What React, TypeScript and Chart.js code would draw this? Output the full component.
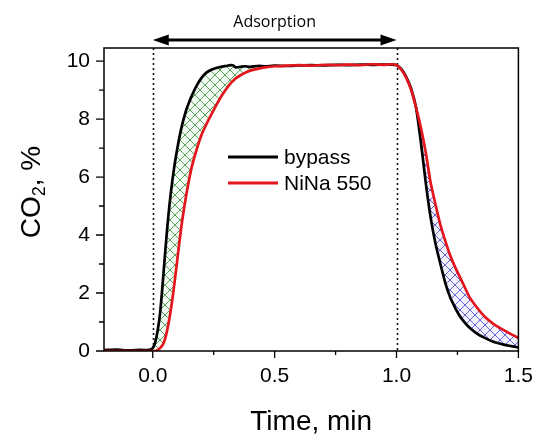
import React, { useEffect, useRef } from 'react';
import { Chart, registerables } from 'chart.js';

Chart.register(...registerables);

// ---- Data ----
const time = [
  -0.2, -0.15, -0.1, -0.05, -0.02, 0, 0.01, 0.02, 0.03, 0.04, 0.05, 0.06, 0.07, 0.08, 0.09,
  0.1, 0.11, 0.12, 0.13, 0.14, 0.15, 0.16, 0.18, 0.2, 0.22, 0.24, 0.26, 0.28, 0.3, 0.32, 0.33,
  0.34, 0.36, 0.38, 0.4, 0.43, 0.46, 0.5, 0.55, 0.6, 0.65, 0.7, 0.75, 0.8, 0.85, 0.9,
  0.95, 0.98, 1.0, 1.02, 1.04, 1.06, 1.08, 1.1, 1.12, 1.14, 1.16, 1.18, 1.2, 1.22, 1.24,
  1.26, 1.28, 1.3, 1.33, 1.36, 1.4, 1.44, 1.47, 1.5,
];
const bypass = [
  0.03, 0.05, 0.02, 0.04, 0.03, 0.1, 0.3, 0.7, 1.3, 2.25, 3.3, 4.3, 5.15, 5.85, 6.45,
  6.95, 7.4, 7.78, 8.1, 8.38, 8.6, 8.8, 9.15, 9.42, 9.6, 9.7, 9.76, 9.8, 9.83, 9.86, 9.85,
  9.78, 9.8, 9.82, 9.8, 9.83, 9.82, 9.84, 9.83, 9.85, 9.86, 9.85, 9.87, 9.86, 9.88, 9.87,
  9.88, 9.88, 9.86, 9.72, 9.45, 9.05, 8.4, 7.2, 5.8, 4.6, 3.7, 3.0, 2.35, 1.85, 1.5,
  1.2, 0.98, 0.8, 0.6, 0.46, 0.31, 0.22, 0.17, 0.12,
];
const nina550 = [
  0.0, 0.0, 0.0, 0.0, 0.0, 0.0, 0.0, 0.03, 0.1, 0.2, 0.4, 0.75, 1.2, 1.75, 2.4,
  3.1, 3.8, 4.45, 5.0, 5.5, 5.95, 6.35, 6.95, 7.45, 7.82, 8.15, 8.47, 8.77, 9.02, 9.24, 9.32,
  9.4, 9.51, 9.6, 9.67, 9.73, 9.78, 9.82, 9.84, 9.86, 9.84, 9.87, 9.86, 9.88, 9.86, 9.89,
  9.87, 9.89, 9.86, 9.7, 9.42, 9.0, 8.4, 7.7, 6.85, 5.8, 5.05, 4.35, 3.8, 3.3, 2.9,
  2.55, 2.2, 1.85, 1.5, 1.2, 0.92, 0.72, 0.58, 0.45,
];
const xMajorTicks = [0, 0.5, 1.0, 1.5];
const xMinorTicks = [0.25, 0.75, 1.25];
const yMajorTicks = [0, 2, 4, 6, 8, 10];
const yMinorTicks = [1, 3, 5, 7, 9];
const markerTimes = [0, 1.0];
const seriesLabels = ['bypass', 'NiNa 550'];
const annotationText = 'Adsorption';
const xTitle = 'Time, min';

const FONT = '"Liberation Sans", Arial, sans-serif';
const BLACK = '#000000';
const RED = '#e3161d';

function makeHatch(color: string, bg: string): CanvasPattern | string {
  const s = 10;
  const c = document.createElement('canvas');
  c.width = s;
  c.height = s;
  const g = c.getContext('2d');
  if (!g) return color;
  g.fillStyle = bg;
  g.fillRect(0, 0, s, s);
  g.strokeStyle = color;
  g.lineWidth = 1;
  g.beginPath();
  g.moveTo(-1, -1);
  g.lineTo(s + 1, s + 1);
  g.moveTo(s + 1, -1);
  g.lineTo(-1, s + 1);
  g.stroke();
  const p = g.createPattern(c, 'repeat');
  return p || color;
}

const decorPlugin = {
  id: 'decor',
  beforeDatasetsDraw(chart: any) {
    const { ctx, chartArea } = chart;
    const xs = chart.scales.x;
    ctx.save();
    ctx.strokeStyle = '#111';
    ctx.lineWidth = 1.6;
    ctx.setLineDash([2, 3]);
    markerTimes.forEach((t) => {
      const px = Math.round(xs.getPixelForValue(t)) + 0.5;
      ctx.beginPath();
      ctx.moveTo(px, chartArea.top);
      ctx.lineTo(px, chartArea.bottom);
      ctx.stroke();
    });
    ctx.restore();
  },
  afterDraw(chart: any) {
    const { ctx, chartArea } = chart;
    const xs = chart.scales.x;
    const ys = chart.scales.y;
    const { left, right, top, bottom } = chartArea;
    ctx.save();
    // frame
    ctx.strokeStyle = '#000';
    ctx.lineWidth = 1.5;
    ctx.setLineDash([]);
    ctx.strokeRect(left, top, right - left, bottom - top);
    // ticks
    ctx.lineWidth = 1.3;
    ctx.beginPath();
    xMajorTicks.forEach((v) => {
      const px = xs.getPixelForValue(v);
      ctx.moveTo(px, bottom);
      ctx.lineTo(px, bottom + 7);
    });
    xMinorTicks.forEach((v) => {
      const px = xs.getPixelForValue(v);
      ctx.moveTo(px, bottom);
      ctx.lineTo(px, bottom + 4);
    });
    yMajorTicks.forEach((v) => {
      const py = ys.getPixelForValue(v);
      ctx.moveTo(left, py);
      ctx.lineTo(left - 8, py);
    });
    yMinorTicks.forEach((v) => {
      const py = ys.getPixelForValue(v);
      ctx.moveTo(left, py);
      ctx.lineTo(left - 5, py);
    });
    ctx.stroke();

    // x title
    ctx.fillStyle = '#000';
    ctx.font = `28px ${FONT}`;
    ctx.textAlign = 'center';
    ctx.textBaseline = 'alphabetic';
    ctx.fillText(xTitle, (left + right) / 2, 430);

    // y title: CO2, % with subscript
    ctx.save();
    ctx.translate(40, 192);
    ctx.rotate(-Math.PI / 2);
    ctx.textAlign = 'left';
    const big = `28px ${FONT}`;
    const small = `18px ${FONT}`;
    ctx.font = big;
    const w1 = ctx.measureText('CO').width;
    const w3 = ctx.measureText(', %').width;
    ctx.font = small;
    const w2 = ctx.measureText('2').width;
    let x0 = -(w1 + w2 + w3) / 2;
    ctx.font = big;
    ctx.fillText('CO', x0, 0);
    x0 += w1;
    ctx.font = small;
    ctx.fillText('2', x0, 5);
    x0 += w2;
    ctx.font = big;
    ctx.fillText(', %', x0, 0);
    ctx.restore();

    // legend
    const legendColors = [BLACK, RED];
    const legendY = [157, 183];
    ctx.lineWidth = 3;
    ctx.font = `21px ${FONT}`;
    ctx.textAlign = 'left';
    ctx.textBaseline = 'middle';
    seriesLabels.forEach((lab, i) => {
      ctx.strokeStyle = legendColors[i];
      ctx.beginPath();
      ctx.moveTo(228, legendY[i]);
      ctx.lineTo(278, legendY[i]);
      ctx.stroke();
      ctx.fillStyle = '#000';
      ctx.fillText(lab, 284, legendY[i] + 1);
    });

    // arrow annotation
    const ax0 = xs.getPixelForValue(markerTimes[0]);
    const ax1 = xs.getPixelForValue(markerTimes[1]);
    const ay = 40;
    const head = 16;
    ctx.strokeStyle = '#000';
    ctx.fillStyle = '#000';
    ctx.lineWidth = 3;
    ctx.beginPath();
    ctx.moveTo(ax0 + head - 2, ay);
    ctx.lineTo(ax1 - head + 2, ay);
    ctx.stroke();
    ctx.beginPath();
    ctx.moveTo(ax0, ay);
    ctx.lineTo(ax0 + head, ay - 5.5);
    ctx.lineTo(ax0 + head, ay + 5.5);
    ctx.closePath();
    ctx.fill();
    ctx.beginPath();
    ctx.moveTo(ax1, ay);
    ctx.lineTo(ax1 - head, ay - 5.5);
    ctx.lineTo(ax1 - head, ay + 5.5);
    ctx.closePath();
    ctx.fill();
    ctx.font = `16px "Open Sans", ${FONT}`;
    ctx.textAlign = 'center';
    ctx.textBaseline = 'middle';
    ctx.fillText(annotationText, (ax0 + ax1) / 2, 22);
    ctx.restore();
  },
};

export default function App() {
  const ref = useRef<HTMLCanvasElement | null>(null);
  useEffect(() => {
    if (!ref.current) return;
    const green = makeHatch('#5aa65a', '#f3faf3');
    const blue = makeHatch('#6464d2', '#f1f1fb');
    const chart = new Chart(ref.current, {
      type: 'line',
      data: {
        datasets: [
          {
            label: seriesLabels[0],
            data: time.map((t, i) => ({ x: t, y: bypass[i] })),
            borderColor: BLACK,
            borderWidth: 2.7,
            pointRadius: 0,
            tension: 0.2,
            fill: { target: 1, above: green, below: blue } as any,
            order: 1,
          },
          {
            label: seriesLabels[1],
            data: time.map((t, i) => ({ x: t, y: nina550[i] })),
            borderColor: RED,
            borderWidth: 2.7,
            pointRadius: 0,
            tension: 0.2,
            fill: false,
            order: 0,
          },
        ],
      },
      options: {
        animation: false,
        responsive: false,
        layout: { padding: { top: 48, right: 17, left: 0, bottom: 0 } },
        plugins: { legend: { display: false }, tooltip: { enabled: false } },
        scales: {
          x: {
            type: 'linear',
            min: -0.2,
            max: 1.5,
            grid: { display: false, drawTicks: true, tickLength: 7 },
            border: { display: false },
            ticks: {
              font: { size: 21, family: FONT },
              color: '#000',
              padding: 6,
              maxRotation: 0,
              autoSkip: false,
              callback: (v: any) => Number(v).toFixed(1),
            },
            afterBuildTicks: (s: any) => {
              s.ticks = xMajorTicks.map((v) => ({ value: v }));
            },
            afterFit: (s: any) => {
              s.height = 84;
            },
          },
          y: {
            type: 'linear',
            min: 0,
            max: 10.45,
            grid: { display: false, drawTicks: true, tickLength: 8 },
            border: { display: false },
            ticks: {
              font: { size: 21, family: FONT },
              color: '#000',
              padding: 6,
              autoSkip: false,
              callback: (v: any) => String(v),
            },
            afterBuildTicks: (s: any) => {
              s.ticks = yMajorTicks.map((v) => ({ value: v }));
            },
            afterFit: (s: any) => {
              s.width = 104;
            },
          },
        },
      } as any,
      plugins: [decorPlugin],
    });
    return () => chart.destroy();
  }, []);
  return (
    <div style={{ position: 'absolute', left: 0, top: 0, width: 539, height: 435 }}>
      <canvas ref={ref} width={539} height={435} style={{ display: 'block' }} />
    </div>
  );
}
